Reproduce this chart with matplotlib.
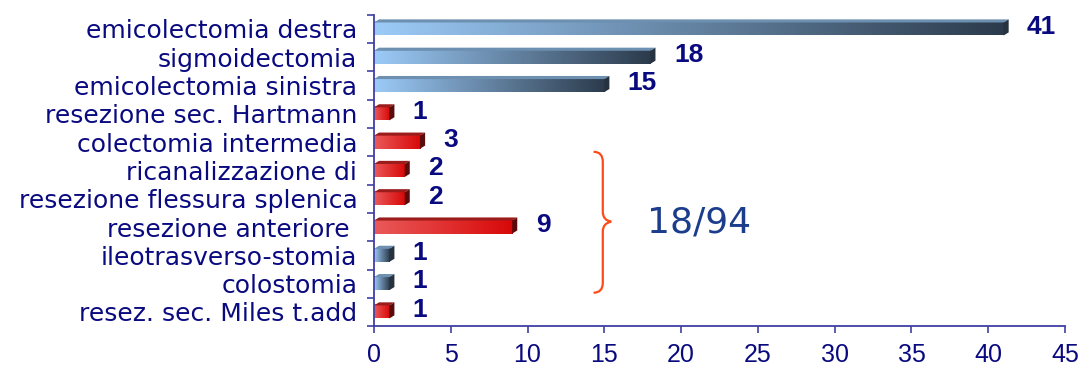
import numpy as np
import matplotlib.pyplot as plt
from matplotlib.patches import Polygon, PathPatch
from matplotlib.path import Path
from matplotlib.colors import to_rgb

categories = ["emicolectomia destra", "sigmoidectomia", "emicolectomia sinistra",
              "resezione sec. Hartmann", "colectomia intermedia", "ricanalizzazione di",
              "resezione flessura splenica", "resezione anteriore ", "ileotrasverso-stomia",
              "colostomia", "resez. sec. Miles t.add"]
values = [41, 18, 15, 1, 3, 2, 2, 9, 1, 1, 1]
groups = ["blue", "blue", "blue", "red", "red", "red", "red", "red", "blue", "blue", "red"]
xticks = [0, 5, 10, 15, 20, 25, 30, 35, 40, 45]
note = "18/94"

navy = "#0a0a80"
spine = "#4040a4"
styles = {
    "blue": dict(light="#9ccbf8", dark="#2c3b4c", top="#6d8fb0", side="#26323f"),
    "red": dict(light="#ea5a5a", dark="#d80808", top="#9c1c1c", side="#5a0c0c"),
}

fig = plt.figure(figsize=(10.84, 3.71), dpi=100)
ax = fig.add_axes([0.345, 0.121, 0.6375, 0.839])

h = 0.46    # front face height
dx = 0.33   # depth in x
dy = 0.11   # depth in y


def gradient(c1, c2, n=256):
    a, b = np.array(to_rgb(c1)), np.array(to_rgb(c2))
    t = np.linspace(0, 1, n)[:, None]
    return (a + (b - a) * t)[None, :, :]


for i, (v, g) in enumerate(zip(values, groups)):
    st = styles[g]
    top, bot = i - h / 2, i + h / 2
    ax.imshow(gradient(st["light"], st["dark"]), extent=(0, v, bot, top),
              aspect="auto", interpolation="bilinear", zorder=2)
    ax.add_patch(Polygon([(0, top), (dx, top - dy), (v + dx, top - dy), (v, top)],
                         closed=True, facecolor=st["top"], edgecolor="none", zorder=2))
    ax.add_patch(Polygon([(v, top), (v + dx, top - dy), (v + dx, bot - dy), (v, bot)],
                         closed=True, facecolor=st["side"], edgecolor="none", zorder=2))
    ax.text(v + dx + 1.2, i - 0.08, str(v), ha="left", va="center",
            fontsize=19, fontweight="bold", color=navy, family="Liberation Sans")

# brace and note
x0, x1, x2 = 14.3, 14.9, 15.45
yt, ym, yb = 4.34, 6.81, 9.32
verts = [(x0, yt), (x1, yt), (x1, yt + 0.35), (x1, yt + 0.6),
         (x1, ym - 0.35), (x1, ym - 0.05), (x2, ym),
         (x1, ym + 0.05), (x1, ym + 0.35),
         (x1, yb - 0.6), (x1, yb - 0.35), (x1, yb), (x0, yb)]
codes = [Path.MOVETO, Path.CURVE3, Path.CURVE3, Path.LINETO,
         Path.LINETO, Path.CURVE3, Path.CURVE3,
         Path.CURVE3, Path.CURVE3,
         Path.LINETO, Path.LINETO, Path.CURVE3, Path.CURVE3]
ax.add_patch(PathPatch(Path(verts, codes), facecolor="none", edgecolor="#ff4a1a",
                       lw=1.6, zorder=3))
ax.text(21.2, 6.85, note, ha="center", va="center", fontsize=26,
        color="#1c3c8c", family="DejaVu Sans")

ax.set_xlim(0, 45)
ax.set_ylim(len(categories) - 0.5, -0.5)
ax.set_xticks(xticks)
ax.set_yticks(range(len(categories)))
ax.set_yticklabels(categories)
ax.set_yticks(np.arange(-0.5, len(categories), 1), minor=True)

for s in ["top", "right"]:
    ax.spines[s].set_visible(False)
for s in ["left", "bottom"]:
    ax.spines[s].set_color(spine)
    ax.spines[s].set_linewidth(1.3)

ax.tick_params(axis="y", which="major", length=0, pad=12, labelsize=18, labelcolor=navy)
ax.tick_params(axis="y", which="minor", length=5, color=spine, width=1.2)
ax.tick_params(axis="x", length=5, color=spine, width=1.2, labelsize=18,
               labelcolor=navy, pad=7)
for lab in ax.get_yticklabels():
    lab.set_family("DejaVu Sans")
for lab in ax.get_xticklabels():
    lab.set_family("Liberation Sans")

fig.savefig("out.png", dpi=100)
